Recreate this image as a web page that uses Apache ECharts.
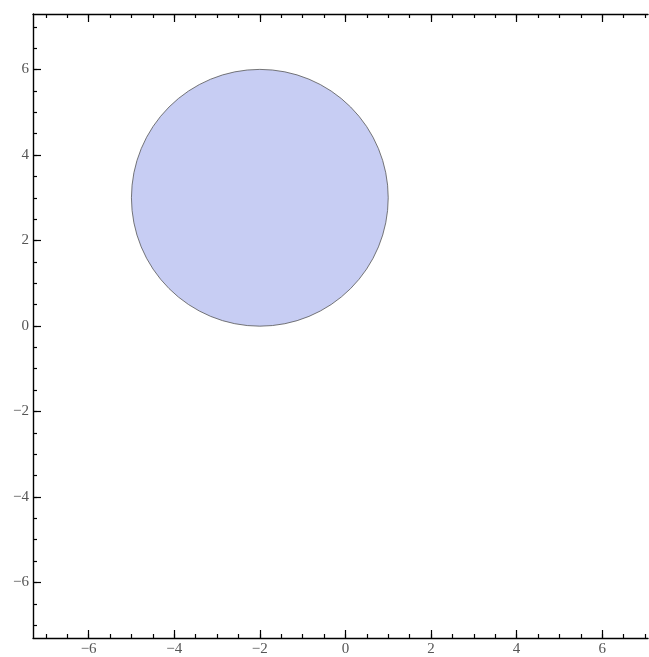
<!DOCTYPE html>
<html>
<head>
<meta charset="utf-8">
<script src="https://cdn.jsdelivr.net/npm/echarts@6/dist/echarts.min.js"></script>
<style>
html,body{margin:0;padding:0;background:#fff;}
#c{width:649px;height:657px;}
</style>
</head>
<body>
<div id="c"></div>
<script>
// Data
const disks = [[-2, 3, 3]]; // [centerX, centerY, radius]
const majorTicks = [-6, -4, -2, 0, 2, 4, 6];
const minorTicks = [-7, -6.5, -6, -5.5, -5, -4.5, -4, -3.5, -3, -2.5, -2, -1.5, -1, -0.5, 0, 0.5, 1, 1.5, 2, 2.5, 3, 3.5, 4, 4.5, 5, 5.5, 6, 6.5, 7];
const xMin = -7.3, xMax = 7.07;
const yMin = -7.3, yMax = 7.3;

const fmt = v => (v < 0 ? '\u2212' + (-v) : String(v));
const lineStyle = {color: '#000', width: 1.4};
const labelStyle = {fontFamily: '"Liberation Serif","DejaVu Serif",serif', fontSize: 15, color: '#555'};

function mkAxis(pos, min, max, ticks, len, showLabel, showLine) {
  return {
    type: 'value', position: pos, min: min, max: max,
    splitLine: {show: false},
    axisLine: {show: showLine, onZero: false, lineStyle: lineStyle},
    axisTick: {show: true, inside: true, length: len, customValues: ticks, lineStyle: {color: '#000', width: 1.2}},
    axisLabel: showLabel ? Object.assign({show: true, customValues: majorTicks, formatter: fmt, margin: 4}, labelStyle) : {show: false}
  };
}

const chart = echarts.init(document.getElementById('c'), null, {renderer: 'canvas'});
chart.setOption({
  animation: false,
  grid: {left: 33, top: 14, right: 1, bottom: 17, containLabel: false},
  xAxis: [
    mkAxis('bottom', xMin, xMax, majorTicks, 8, true, true),
    mkAxis('bottom', xMin, xMax, minorTicks, 4, false, false),
    mkAxis('top', xMin, xMax, majorTicks, 8, false, true),
    mkAxis('top', xMin, xMax, minorTicks, 4, false, false)
  ],
  yAxis: [
    mkAxis('left', yMin, yMax, majorTicks, 8, true, true),
    mkAxis('left', yMin, yMax, minorTicks, 4, false, false)
  ],
  series: [{
    type: 'custom',
    xAxisIndex: 0, yAxisIndex: 0,
    data: disks,
    renderItem: function (params, api) {
      const c = api.coord([api.value(0), api.value(1)]);
      const r = api.size([api.value(2), 0])[0];
      return {
        type: 'circle',
        shape: {cx: c[0], cy: c[1], r: r},
        style: {fill: '#c7cdf3', stroke: '#555', lineWidth: 0.8}
      };
    }
  }]
});
</script>
</body>
</html>
